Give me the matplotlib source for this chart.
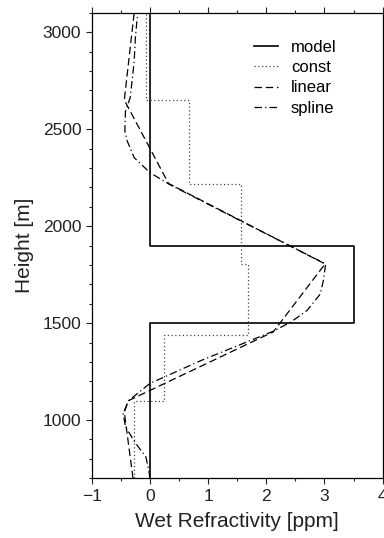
import matplotlib.pyplot as plt
from matplotlib.ticker import MultipleLocator

plt.rcParams['font.family'] = ['Liberation Sans', 'DejaVu Sans']

# true profile (step)
model_x = [0.0, 0.0, 3.5, 3.5, 0.0, 0.0]
model_h = [700, 1500, 1500, 1900, 1900, 3100]

# piecewise-constant retrieval
const_x = [-0.27, -0.27, 0.24, 0.24, 1.68, 1.68, 1.57, 1.57, 0.68, 0.68, -0.06, -0.06]
const_h = [700, 1100, 1100, 1437, 1437, 1805, 1805, 2215, 2215, 2650, 2650, 3100]

# piecewise-linear retrieval
linear_x = [-0.29, -0.44, -0.37, 2.12, 3.01, 0.32, -0.44, -0.27]
linear_h = [700, 1040, 1100, 1455, 1805, 2220, 2650, 3100]

# spline retrieval
spline_x = [0.0, -0.02, -0.07, -0.25, -0.42, -0.46, -0.37, 0.0, 0.87, 2.12,
            2.42, 2.70, 2.93, 2.98, 3.02, 1.56, 0.33, 0.0, -0.27, -0.39,
            -0.43, -0.42, -0.34, -0.30, -0.27, -0.25, -0.21]
spline_h = [700, 743, 811, 882, 966, 1034, 1099, 1189, 1306, 1458,
            1505, 1565, 1651, 1719, 1805, 2027, 2216, 2276, 2353, 2439,
            2490, 2593, 2661, 2764, 2850, 2970, 3100]

x_ticks = [-1, 0, 1, 2, 3, 4]
x_ticklabels = ['\u22121', '0', '1', '2', '3', '4']
y_ticks = [1000, 1500, 2000, 2500, 3000]

fig = plt.figure(figsize=(3.84, 5.38), dpi=100)
ax = fig.add_axes([0.2388, 0.111, 0.7578, 0.8653])

ax.plot(model_x, model_h, color='black', lw=1.2, label='model')
ax.plot(const_x, const_h, color='#444444', lw=0.9, linestyle=(0, (1, 2)), label='const')
ax.plot(linear_x, linear_h, color='black', lw=0.9, linestyle=(0, (6, 3)), label='linear')
ax.plot(spline_x, spline_h, color='black', lw=0.9, linestyle=(0, (6, 2.5, 1, 2.5)), label='spline')

ax.set_xlim(-1, 4)
ax.set_ylim(700, 3100)
ax.set_xticks(x_ticks, x_ticklabels)
ax.set_yticks(y_ticks)
ax.xaxis.set_minor_locator(MultipleLocator(0.5))
ax.yaxis.set_minor_locator(MultipleLocator(100))
ax.tick_params(which='both', direction='out', top=True, right=True, width=0.8,
               labelsize=12.5, colors='#222222')
ax.tick_params(which='major', length=4)
ax.tick_params(which='minor', length=2.5)
for s in ax.spines.values():
    s.set_linewidth(0.9)

ax.set_xlabel('Wet Refractivity [ppm]', fontsize=15, color='#222222', labelpad=6)
ax.set_ylabel('Height [m]', fontsize=15, color='#222222', labelpad=6)

ax.legend(loc='upper left', bbox_to_anchor=(0.53, 0.96), frameon=False, fontsize=12,
          handlelength=1.45, handletextpad=0.75, labelspacing=0.32, borderpad=0)

fig.savefig('out.png', dpi=100)
